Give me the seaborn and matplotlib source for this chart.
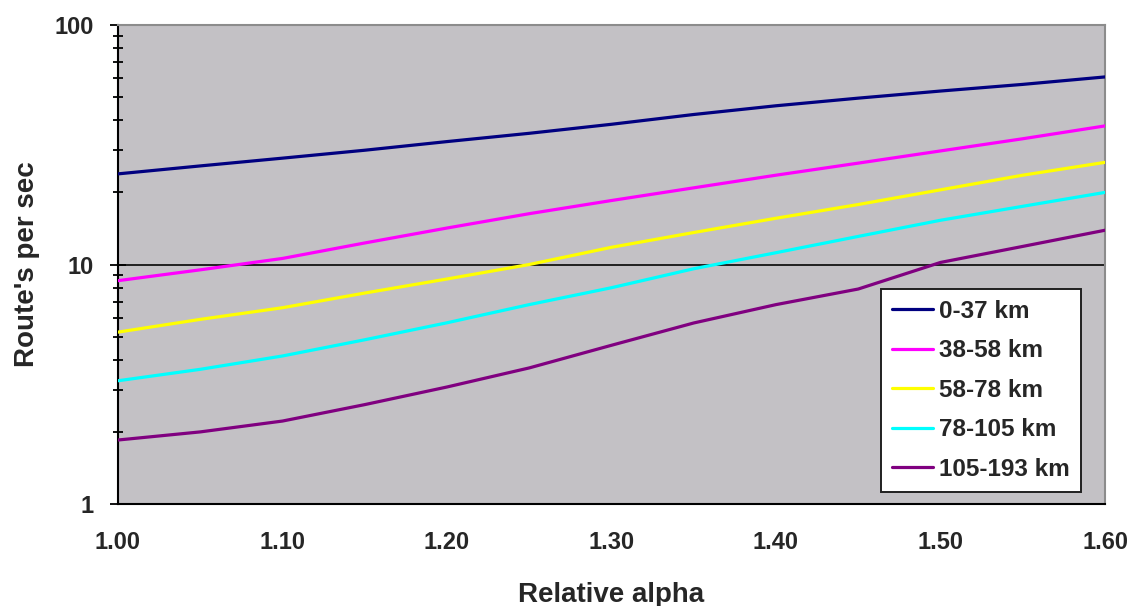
import numpy as np
import pandas as pd
import matplotlib
matplotlib.use("Agg")
import matplotlib.pyplot as plt
import seaborn as sns
from matplotlib.ticker import FixedLocator, LogLocator, NullFormatter

# data
alpha = [1.00, 1.05, 1.10, 1.15, 1.20, 1.25, 1.30, 1.35, 1.40, 1.45, 1.50, 1.55, 1.60]
band_0_37 = [23.9, 25.8, 27.8, 30.0, 32.6, 35.3, 38.5, 42.3, 46.0, 49.5, 53.0, 56.5, 60.7]
band_38_58 = [8.56, 9.5, 10.6, 12.3, 14.2, 16.3, 18.5, 20.9, 23.6, 26.5, 29.8, 33.5, 37.9]
band_58_78 = [5.22, 5.9, 6.6, 7.6, 8.7, 10.0, 11.8, 13.6, 15.6, 17.8, 20.5, 23.6, 26.7]
band_78_105 = [3.27, 3.65, 4.15, 4.85, 5.71, 6.8, 8.0, 9.6, 11.2, 13.1, 15.3, 17.5, 20.0]
band_105_193 = [1.85, 2.0, 2.22, 2.6, 3.08, 3.7, 4.6, 5.7, 6.8, 7.9, 10.2, 11.9, 13.9]

series_names = ["0-37 km", "38-58 km", "58-78 km", "78-105 km", "105-193 km"]
series_colors = ["#000080", "#FF00FF", "#FFFF00", "#00FFFF", "#800080"]
xtick_labels = ["1.00", "1.10", "1.20", "1.30", "1.40", "1.50", "1.60"]
ytick_labels = ["1", "10", "100"]


def main():
    values = [band_0_37, band_38_58, band_58_78, band_78_105, band_105_193]
    df = pd.DataFrame({
        "alpha": np.tile(alpha, len(series_names)),
        "rate": np.concatenate(values),
        "band": np.repeat(series_names, len(alpha)),
    })

    sns.set_style("white")
    plt.rcParams['font.family'] = ['Liberation Sans', 'DejaVu Sans']
    plt.rcParams['font.weight'] = 'bold'

    fig = plt.figure(figsize=(11.3, 6.06), dpi=100, facecolor="white")
    ax = fig.add_axes([118 / 1130, 1 - 504 / 606, 987 / 1130, 479 / 606])
    ax.set_facecolor("#C3C1C5")

    sns.lineplot(data=df, x="alpha", y="rate", hue="band", hue_order=series_names,
                 palette=series_colors, linewidth=2.3, ax=ax, zorder=3)

    ax.set_yscale("log")
    ax.set_xlim(1.0, 1.6)
    ax.set_ylim(1, 100)

    ax.xaxis.set_major_locator(FixedLocator([float(t) for t in xtick_labels]))
    ax.set_xticklabels(xtick_labels)
    ax.yaxis.set_major_locator(FixedLocator([float(t) for t in ytick_labels]))
    ax.set_yticklabels(ytick_labels)
    ax.yaxis.set_minor_locator(LogLocator(base=10, subs=np.arange(2, 10)))
    ax.yaxis.set_minor_formatter(NullFormatter())

    ax.tick_params(axis="x", which="major", direction="out", length=6.5, width=1.3,
                   pad=13, labelsize=17, color="black")
    ax.tick_params(axis="y", which="major", direction="inout", length=12, width=1.3,
                   pad=11.5, labelsize=17, color="black", left=True)
    ax.tick_params(axis="y", which="minor", direction="inout", length=7.5, width=1.3,
                   color="black", left=True)

    ax.yaxis.grid(True, which="major", color="#202020", linewidth=1.4, zorder=1)
    ax.set_axisbelow(True)

    for side in ["left", "bottom"]:
        ax.spines[side].set_color("black")
        ax.spines[side].set_linewidth(1.5)
    for side in ["top", "right"]:
        ax.spines[side].set_color("#8C8C8C")
        ax.spines[side].set_linewidth(1.5)

    ax.set_xlabel("Relative alpha", fontsize=20, fontweight="bold", labelpad=20)
    ax.set_ylabel("Route's per sec", fontsize=20, fontweight="bold", labelpad=10)

    leg = ax.legend(loc="lower right", bbox_to_anchor=(0.9757, 0.0257),
                    fontsize=17.5, frameon=True, fancybox=False, framealpha=1,
                    handlelength=1.7, handletextpad=0.25, labelspacing=0.68,
                    borderpad=0.45, borderaxespad=0)
    leg.get_frame().set_edgecolor("#202020")
    leg.get_frame().set_linewidth(1.4)
    leg.get_frame().set_facecolor("white")
    for text in leg.get_texts():
        text.set_fontweight("bold")

    plt.savefig("out.png", dpi=100, facecolor="white")


if __name__ == '__main__':
    main()
